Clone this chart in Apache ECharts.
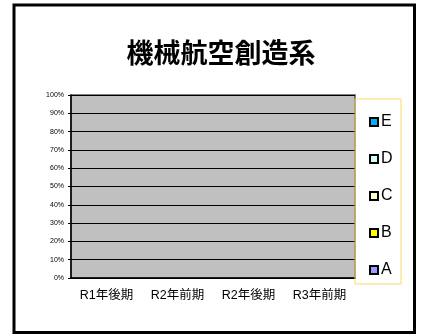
<!DOCTYPE html>
<html><head><meta charset="utf-8">
<script src="https://cdn.jsdelivr.net/npm/echarts@6/dist/echarts.min.js"></script>
<style>html,body{margin:0;padding:0;background:#fff}#c{width:427px;height:335px}</style>
</head><body><div id="c"></div>
<script>
const title = '機械航空創造系';
const categories = ['R1年後期', 'R2年前期', 'R2年後期', 'R3年前期'];
const seriesNames = ['A', 'B', 'C', 'D', 'E'];
const valuesA = [0, 0, 0, 0];
const valuesB = [0, 0, 0, 0];
const valuesC = [0, 0, 0, 0];
const valuesD = [0, 0, 0, 0];
const valuesE = [0, 0, 0, 0];
const seriesValues = [valuesA, valuesB, valuesC, valuesD, valuesE];
const colors = ['#9999FF', '#FFFF00', '#FFFFCC', '#CCFFFF', '#00B0F0'];
const yTicks = [0, 10, 20, 30, 40, 50, 60, 70, 80, 90, 100];

const chart = echarts.init(document.getElementById('c'));
const font = 'Liberation Sans, Noto Sans CJK JP, sans-serif';
chart.setOption({
  animation: false,
  backgroundColor: '#fff',
  title: {
    text: title, left: 216, top: 34, textAlign: 'center',
    textStyle: {fontFamily: 'Noto Sans CJK JP', fontWeight: 'bold', fontSize: 27, color: '#000'}
  },
  grid: {
    left: 71, right: 72, top: 95, bottom: 57, show: true,
    backgroundColor: '#C0C0C0', borderColor: '#555', borderWidth: 1.5
  },
  legend: {
    orient: 'vertical', left: 364, top: 109,
    data: seriesNames.slice().reverse(),
    itemWidth: 8, itemHeight: 8, itemGap: 21,
    icon: 'rect',
    itemStyle: {borderColor: '#000', borderWidth: 2},
    textStyle: {fontFamily: font, fontSize: 16, color: '#000', lineHeight: 16, padding: [0, 0, 0, -2]}
  },
  xAxis: {
    type: 'category', data: categories, boundaryGap: true,
    axisLine: {lineStyle: {color: '#000', width: 1.5}},
    axisTick: {inside: true, length: 3, lineStyle: {color: '#000'}},
    axisLabel: {fontFamily: font, fontSize: 12.5, color: '#000', margin: 11}
  },
  yAxis: {
    type: 'value', min: yTicks[0], max: yTicks[yTicks.length - 1], interval: 10,
    axisLine: {show: true, lineStyle: {color: '#000', width: 1.5}},
    axisTick: {show: true, inside: false, length: 3, lineStyle: {color: '#000'}},
    splitLine: {lineStyle: {color: '#000', width: 1}},
    axisLabel: {fontFamily: font, fontSize: 7, color: '#000', margin: 7, formatter: '{value}%'}
  },
  graphic: [
    {type: 'rect', z: 100, shape: {x: 355, y: 99, width: 46, height: 185},
     style: {fill: 'none', stroke: '#FFD966', lineWidth: 1}},
    {type: 'rect', z: 100, shape: {x: 14, y: 5, width: 400.5, height: 327.5},
     style: {fill: 'none', stroke: '#000', lineWidth: 3}}
  ],
  series: seriesNames.map((n, i) => ({
    name: n, type: 'bar', stack: 'total', barWidth: '50%',
    data: seriesValues[i], itemStyle: {color: colors[i], borderColor: '#000', borderWidth: 0}
  }))
});
</script></body></html>
